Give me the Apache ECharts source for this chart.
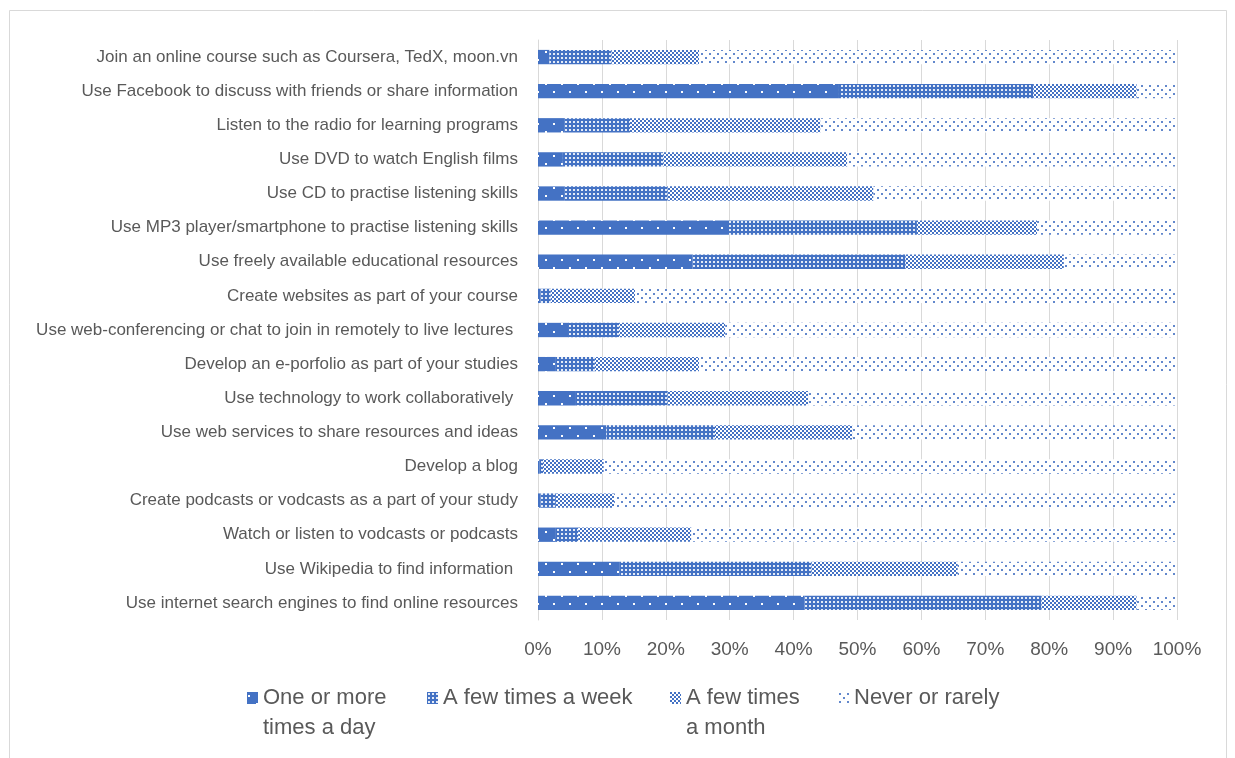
<!DOCTYPE html>
<html>
<head>
<meta charset="utf-8">
<title>Frequency of technology use for learning</title>
<script src="https://cdn.jsdelivr.net/npm/echarts@6/dist/echarts.min.js"></script>
<style>
  html, body { margin: 0; padding: 0; background: #ffffff; }
  #chart { width: 1235px; height: 758px; }
</style>
</head>
<body>
<div id="chart"></div>
<script>
// Activities, listed top to bottom
const categories = [
  'Join an online course such as Coursera, TedX, moon.vn',
  'Use Facebook to discuss with friends or share information',
  'Listen to the radio for learning programs',
  'Use DVD to watch English films',
  'Use CD to practise listening skills',
  'Use MP3 player/smartphone to practise listening skills',
  'Use freely available educational resources',
  'Create websites as part of your course',
  'Use web-conferencing or chat to join in remotely to live lectures ',
  'Develop an e-porfolio as part of your studies',
  'Use technology to work collaboratively ',
  'Use web services to share resources and ideas',
  'Develop a blog',
  'Create podcasts or vodcasts as a part of your study',
  'Watch or listen to vodcasts or podcasts',
  'Use Wikipedia to find information ',
  'Use internet search engines to find online resources'
];

// Share of respondents (%) per frequency, same order as categories
const dailyValues   = [1.8, 47.1, 4.2, 3.9, 4.2, 29.9, 24.2, 0.4, 4.7, 2.8, 5.8, 10.7, 0.2, 0.4, 2.8, 12.7, 41.7];
const weeklyValues  = [9.7, 30.4, 10.2, 15.7, 16.1, 29.4, 33.3, 1.6, 8.0, 6.1, 14.5, 17.0, 0.6, 2.4, 3.5, 30.1, 37.1];
const monthlyValues = [13.7, 16.2, 29.8, 28.8, 32.2, 18.8, 24.8, 13.2, 16.6, 16.3, 22.0, 21.5, 9.5, 9.1, 17.7, 22.9, 14.9];
const rarelyValues  = [74.8, 6.3, 55.8, 51.6, 47.5, 21.9, 17.7, 84.8, 70.7, 74.8, 57.7, 50.8, 89.7, 88.1, 76.0, 34.3, 6.3];

const seriesNames  = ['One or more times a day', 'A few times a week', 'A few times a month', 'Never or rarely'];
// A leading blank line keeps the first text line level with the legend swatch
const legendLabels = ['\nOne or more\ntimes a day', 'A few times a week', '\nA few times\na month', 'Never or rarely'];
const xTickLabels  = ['0%', '10%', '20%', '30%', '40%', '50%', '60%', '70%', '80%', '90%', '100%'];

const BLUE = '#4472C4';
const FONT = 'Liberation Sans, Arial, sans-serif';

// Build a repeating canvas tile used as a fill pattern
function makePattern(size, paint) {
  const c = document.createElement('canvas');
  c.width = size; c.height = size;
  const ctx = c.getContext('2d');
  paint(ctx, size);
  return { image: c, repeat: 'repeat' };
}

// Solid blue with sparse white specks
const dailyFill = makePattern(16, (ctx, s) => {
  ctx.fillStyle = BLUE; ctx.fillRect(0, 0, s, s);
  ctx.fillStyle = '#ffffff';
  ctx.fillRect(1, 3, 2, 2);
  ctx.fillRect(9, 11, 2, 2);
});
// Blue grid with small white cells
const weeklyFill = makePattern(4, (ctx, s) => {
  ctx.fillStyle = BLUE; ctx.fillRect(0, 0, s, s);
  ctx.fillStyle = '#e4ebf7';
  ctx.fillRect(1, 1, 2, 2);
});
// Fine checkerboard
const monthlyFill = makePattern(4, (ctx, s) => {
  ctx.fillStyle = '#ffffff'; ctx.fillRect(0, 0, s, s);
  ctx.fillStyle = BLUE;
  ctx.fillRect(0, 0, 2, 2);
  ctx.fillRect(2, 2, 2, 2);
});
// White with scattered blue dots
const rarelyFill = makePattern(8, (ctx, s) => {
  ctx.fillStyle = '#ffffff'; ctx.fillRect(0, 0, s, s);
  ctx.fillStyle = '#6388cc';
  ctx.fillRect(1, 1, 2, 2);
  ctx.fillRect(5, 5, 2, 2);
});

const fills = [dailyFill, weeklyFill, monthlyFill, rarelyFill];
const valueSets = [dailyValues, weeklyValues, monthlyValues, rarelyValues];

const chart = echarts.init(document.getElementById('chart'), null, { renderer: 'canvas' });

const legendWidths = [164, 227, 152, 170];

const option = {
  backgroundColor: '#ffffff',
  animation: false,
  textStyle: { fontFamily: FONT },
  graphic: [{
    type: 'rect',
    shape: { x: 9.5, y: 10.5, width: 1217, height: 780 },
    style: { fill: 'none', stroke: '#D9D9D9', lineWidth: 1 },
    silent: true,
    z: -10
  }],
  grid: { left: 538, right: 58, top: 40, bottom: 138, containLabel: false },
  xAxis: {
    type: 'value',
    min: 0,
    max: 100,
    interval: 10,
    axisLine: { show: false },
    axisTick: { show: false },
    splitLine: { show: true, lineStyle: { color: '#D9D9D9', width: 1 } },
    axisLabel: {
      color: '#595959',
      fontSize: 19,
      fontFamily: FONT,
      margin: 20,
      formatter: (v) => xTickLabels[Math.round(v / 10)]
    }
  },
  yAxis: {
    type: 'category',
    inverse: true,
    data: categories,
    axisLine: { show: true, lineStyle: { color: '#D9D9D9', width: 1 } },
    axisTick: { show: false },
    axisLabel: {
      color: '#595959',
      fontSize: 17,
      fontFamily: FONT,
      margin: 20
    }
  },
  legend: {
    left: 247,
    top: 653,
    padding: 0,
    itemGap: 0,
    itemWidth: 11,
    itemHeight: 12,
    icon: 'rect',
    selectedMode: false,
    data: seriesNames.map((name, i) => ({
      name: name,
      textStyle: {
        color: '#595959',
        fontSize: 22,
        fontFamily: FONT,
        lineHeight: 30,
        width: legendWidths[i]
      }
    })),
    formatter: (name) => legendLabels[seriesNames.indexOf(name)]
  },
  series: seriesNames.map((name, i) => ({
    name: name,
    type: 'bar',
    stack: 'total',
    barWidth: '42%',
    data: valueSets[i],
    itemStyle: { color: fills[i] },
    emphasis: { disabled: true }
  }))
};

chart.setOption(option);
</script>
</body>
</html>
